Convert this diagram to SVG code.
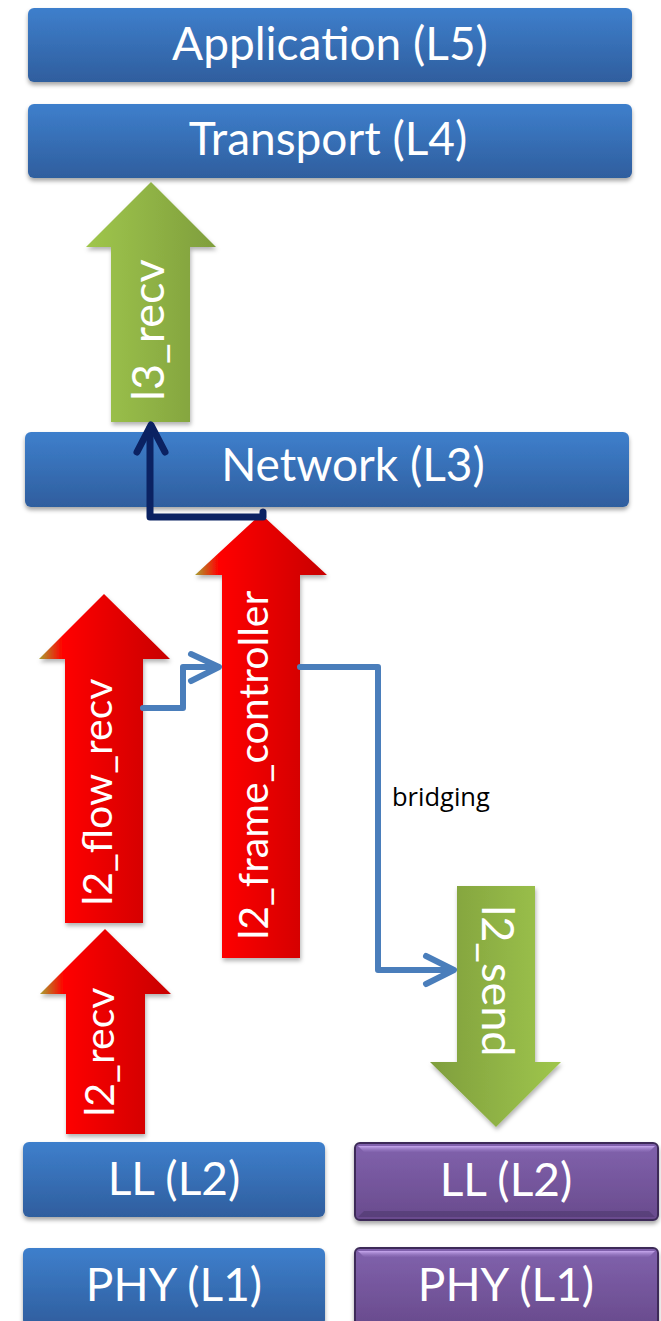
<svg xmlns="http://www.w3.org/2000/svg" width="661" height="1321" viewBox="0 0 661 1321">
<defs>
<style>
.box{fill:url(#blueG);filter:url(#sh)}
.pbox{fill:url(#purpG);stroke:#3c2b58;stroke-width:2;filter:url(#sh)}
.bt{font-family:Lato,"Open Sans",sans-serif;font-size:46px;fill:#fff;text-anchor:middle}
.at{font-family:Lato,"Open Sans",sans-serif;fill:#fff;text-anchor:middle}
.red{fill:url(#redG);filter:url(#sh2)}
.conn{fill:none;stroke:#4a7ebb;stroke-width:6;stroke-linejoin:round;stroke-linecap:round}
.navy{fill:none;stroke:#0b2262;stroke-width:7;stroke-linejoin:round;stroke-linecap:round}
.lbl{font-family:"Open Sans",Lato,sans-serif;font-size:25.5px;fill:#000}
.bev{fill:url(#bevTop)}
.bevB{fill:#3a2a55;opacity:0.35}
</style>
<linearGradient id="blueG" x1="0" y1="0" x2="0" y2="1">
<stop offset="0" stop-color="#3e7fcc"/><stop offset="1" stop-color="#2f5e9e"/>
</linearGradient>
<linearGradient id="purpG" x1="0" y1="0" x2="0" y2="1">
<stop offset="0" stop-color="#8162ad"/><stop offset="1" stop-color="#694b8d"/>
</linearGradient>
<linearGradient id="redG" x1="0" y1="0" x2="1" y2="0">
<stop offset="0" stop-color="#a8a030"/><stop offset="0.18" stop-color="#ff0000"/><stop offset="1" stop-color="#c80000"/>
</linearGradient>
<linearGradient id="greenUp" x1="0" y1="0" x2="1" y2="0">
<stop offset="0" stop-color="#9fc64c"/><stop offset="1" stop-color="#7f9e3d"/>
</linearGradient>
<linearGradient id="greenDn" x1="0" y1="0" x2="1" y2="0">
<stop offset="0" stop-color="#7f9e3d"/><stop offset="1" stop-color="#9fc64c"/>
</linearGradient>
<linearGradient id="bevTop" x1="0" y1="0" x2="0" y2="1">
<stop offset="0" stop-color="#cfb0f5" stop-opacity="0.9"/><stop offset="1" stop-color="#a083cc" stop-opacity="0.1"/>
</linearGradient>
<filter id="sh" x="-5%" y="-10%" width="110%" height="130%">
<feDropShadow dx="0" dy="3" stdDeviation="2" flood-color="#000" flood-opacity="0.35"/>
</filter>
<filter id="sh2" x="-10%" y="-5%" width="125%" height="115%">
<feDropShadow dx="1" dy="3" stdDeviation="2" flood-color="#000" flood-opacity="0.3"/>
</filter>
</defs>

<g id="application">
<rect class="box" x="28" y="8" width="604" height="74" rx="6"/>
<text class="bt" x="330" y="60">Application (L5)</text>
</g>
<g id="transport">
<rect class="box" x="28" y="104" width="604" height="74" rx="6"/>
<text class="bt" x="328" y="155">Transport (L4)</text>
</g>
<g id="l3_recv">
<path d="M151,182 L216,247 L190,247 L190,422 L111,422 L111,247 L86,247 Z" fill="url(#greenUp)" filter="url(#sh2)"/>
<text class="at" font-size="45" transform="translate(164,330) rotate(-90)">l3_recv</text>
</g>
<g id="network">
<rect class="box" x="25" y="432" width="604" height="75" rx="6"/>
<text class="bt" x="353" y="481">Network (L3)</text>
</g>
<g id="l2_frame_controller">
<path class="red" d="M261,514 L327,575 L300,575 L300,958 L222,958 L222,575 L195,575 Z"/>
<text class="at" font-size="41" transform="translate(268,765) rotate(-90)">l2_frame_controller</text>
</g>
<g id="l2_flow_recv">
<path class="red" d="M104,594 L170,659 L143,659 L143,923 L65,923 L65,659 L39,659 Z"/>
<text class="at" font-size="41" transform="translate(112,792) rotate(-90)">l2_flow_recv</text>
</g>
<g id="l2_recv">
<path class="red" d="M105,929 L171,994 L145,994 L145,1134 L66,1134 L66,994 L40,994 Z"/>
<text class="at" font-size="41" transform="translate(114,1052) rotate(-90)">l2_recv</text>
</g>
<g id="l2_send">
<path d="M457,886 L535,886 L535,1062 L561,1062 L496,1127 L430,1062 L457,1062 Z" fill="url(#greenDn)" filter="url(#sh2)"/>
<text class="at" font-size="45" transform="translate(482,981) rotate(90)">l2_send</text>
</g>
<g id="ll_left">
<rect class="box" x="23" y="1142" width="302" height="75" rx="6"/>
<text class="bt" x="174" y="1195">LL (L2)</text>
</g>
<g id="phy_left">
<rect class="box" x="23" y="1248" width="302" height="78" rx="6"/>
<text class="bt" x="174" y="1301">PHY (L1)</text>
</g>
<g id="ll_right">
<rect class="pbox" x="355" y="1143" width="303" height="77" rx="5"/>
<path class="bev" d="M358,1146 H655 L649,1152 H364 Z"/>
<path class="bevB" d="M364,1211 H649 L655,1217 H358 Z"/>
<text class="bt" x="506" y="1196">LL (L2)</text>
</g>
<g id="phy_right">
<rect class="pbox" x="355" y="1248" width="303" height="78" rx="5"/>
<path class="bev" d="M358,1251 H655 L649,1257 H364 Z"/>
<text class="bt" x="506" y="1301">PHY (L1)</text>
</g>

<g id="connectors">
<path class="navy" d="M263,512 V517 H150 V428"/>
<path class="navy" d="M137,452 L151,425 L165,452"/>
<path class="conn" d="M143,708 H183 V667 H217"/>
<path class="conn" d="M191,654 L219,667 L191,681"/>
<path class="conn" d="M300,667 H378 V970 H452"/>
<path class="conn" d="M426,956 L454,970 L426,984"/>
<text class="lbl" x="392" y="806">bridging</text>
</g>
</svg>
